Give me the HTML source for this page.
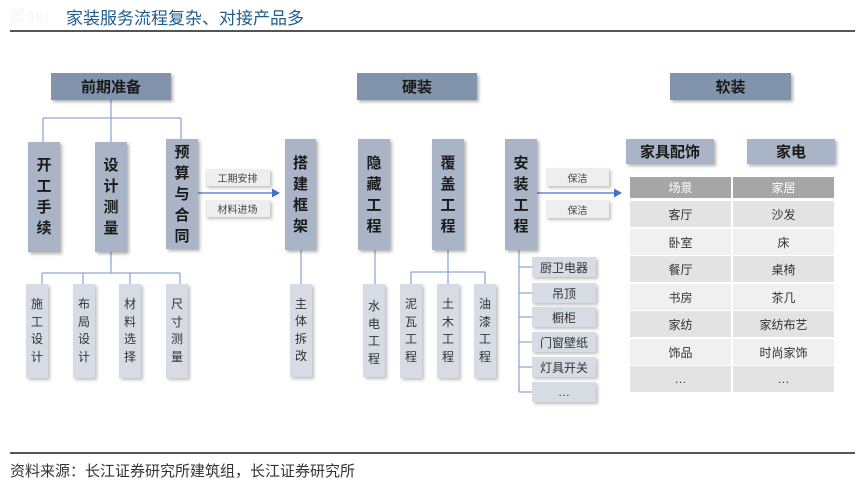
<!DOCTYPE html>
<html><head><meta charset="utf-8">
<style>
*{margin:0;padding:0;box-sizing:border-box}
body{width:864px;height:485px;background:#fff;position:relative;overflow:hidden;font-family:"Liberation Sans","Noto Sans CJK SC",sans-serif;color:#222}
.a{position:absolute}
.h{position:absolute;background:#8294ab;box-shadow:2px 2px 3px rgba(0,0,0,.3);font-weight:bold;font-size:15px;display:flex;align-items:center;justify-content:center;color:#1a1a1a}
.t{position:absolute;background:#a9b4c6;box-shadow:2px 2px 3px rgba(0,0,0,.3);font-weight:bold;font-size:15px;line-height:21px;text-align:center;display:flex;align-items:center;justify-content:center;color:#1a1a1a}
.s{position:absolute;background:#d6dbe4;box-shadow:2px 2px 3px rgba(0,0,0,.25);font-size:12px;line-height:17.5px;text-align:center;display:flex;align-items:center;justify-content:center;color:#333}
.l{position:absolute;background:#eeeeee;box-shadow:2px 2px 3px rgba(0,0,0,.25);font-size:10px;display:flex;align-items:center;justify-content:center;color:#444}
.i{position:absolute;background:#d6dbe4;box-shadow:2px 2px 3px rgba(0,0,0,.25);font-size:12px;display:flex;align-items:center;justify-content:center;color:#333;left:532px;width:64px;height:20px}
.c{position:absolute;font-size:12px;display:flex;align-items:center;justify-content:center;color:#333;height:26px}
</style></head><body>
<div class="a" style="left:10px;top:6px;font-size:14px;color:#f3f4f6">图 18：</div>
<div class="a" style="left:66px;top:4px;font-size:17px;color:#1f5c8e">家装服务流程复杂、对接产品多</div>
<div class="a" style="left:10px;top:30px;width:845px;height:2px;background:#555"></div>

<svg class="a" style="left:0;top:0" width="864" height="485">
<g stroke="#8fa8d6" stroke-width="1.3" fill="none">
<path d="M111 100V118M43 118H181M43 118V142M111 118V142M181 118V139"/>
<path d="M111 252V273M42 273H180M42 273V284M83 273V284M130 273V284M180 273V284"/>
<path d="M301 250V284M375 250V284M448 250V272M411 272H485M411 272V284M448 272V284M485 272V284"/>
<path d="M519 250V392M519 267H532M519 293H532M519 317H532M519 342H532M519 367H532M519 392H532"/>
</g>
<g stroke="#4472c4" stroke-width="1.3"><path d="M198 193H272M537 193H614"/></g>
<path d="M280 193L272 188.5V197.5Z" fill="#4472c4"/>
<path d="M622 193L614 188.5V197.5Z" fill="#4472c4"/>
</svg>

<div class="h" style="left:51px;top:73px;width:120px;height:27px">前期准备</div>
<div class="h" style="left:357px;top:73px;width:120px;height:27px">硬装</div>
<div class="h" style="left:670px;top:73px;width:121px;height:27px">软装</div>

<div class="t" style="left:28px;top:142px;width:32px;height:110px">开<br>工<br>手<br>续</div>
<div class="t" style="left:95px;top:142px;width:32px;height:110px">设<br>计<br>测<br>量</div>
<div class="t" style="left:166px;top:139px;width:32px;height:110px">预<br>算<br>与<br>合<br>同</div>
<div class="t" style="left:285px;top:139px;width:31px;height:111px">搭<br>建<br>框<br>架</div>
<div class="t" style="left:358px;top:139px;width:32px;height:111px">隐<br>藏<br>工<br>程</div>
<div class="t" style="left:432px;top:139px;width:32px;height:111px">覆<br>盖<br>工<br>程</div>
<div class="t" style="left:505px;top:139px;width:32px;height:111px">安<br>装<br>工<br>程</div>

<div class="l" style="left:205px;top:169px;width:65px;height:17px">工期安排</div>
<div class="l" style="left:205px;top:200px;width:65px;height:17px">材料进场</div>
<div class="l" style="left:546px;top:168px;width:63px;height:18px">保洁</div>
<div class="l" style="left:546px;top:200px;width:63px;height:18px">保洁</div>

<div class="s" style="left:26px;top:284px;width:22px;height:94px">施<br>工<br>设<br>计</div>
<div class="s" style="left:73px;top:284px;width:22px;height:94px">布<br>局<br>设<br>计</div>
<div class="s" style="left:119px;top:284px;width:22px;height:94px">材<br>料<br>选<br>择</div>
<div class="s" style="left:166px;top:284px;width:22px;height:94px">尺<br>寸<br>测<br>量</div>
<div class="s" style="left:290px;top:284px;width:22px;height:93px">主<br>体<br>拆<br>改</div>
<div class="s" style="left:363px;top:284px;width:22px;height:93px;align-items:flex-start;padding-top:14px">水<br>电<br>工<br>程</div>
<div class="s" style="left:400px;top:284px;width:22px;height:94px">泥<br>瓦<br>工<br>程</div>
<div class="s" style="left:437px;top:284px;width:22px;height:94px">土<br>木<br>工<br>程</div>
<div class="s" style="left:474px;top:284px;width:22px;height:94px">油<br>漆<br>工<br>程</div>

<div class="i" style="top:257px">厨卫电器</div>
<div class="i" style="top:283px">吊顶</div>
<div class="i" style="top:307px">橱柜</div>
<div class="i" style="top:332px">门窗壁纸</div>
<div class="i" style="top:357px">灯具开关</div>
<div class="i" style="top:382px">…</div>

<div class="h" style="left:626px;top:139px;width:88px;height:25px;background:#a9b4c6">家具配饰</div>
<div class="h" style="left:747px;top:139px;width:88px;height:25px;background:#a9b4c6">家电</div>

<div class="a" style="left:630px;top:177px;width:101px;height:21px;background:#a6a6a6;color:#fff;font-size:12px;display:flex;align-items:center;justify-content:center">场景</div>
<div class="a" style="left:733px;top:177px;width:101px;height:21px;background:#a6a6a6;color:#fff;font-size:12px;display:flex;align-items:center;justify-content:center">家居</div>

<div class="c" style="left:630px;top:201px;width:101px;background:#e3e3e3">客厅</div><div class="c" style="left:733px;top:201px;width:101px;background:#e3e3e3">沙发</div>
<div class="c" style="left:630px;top:229px;width:101px;background:#f0f0f0">卧室</div><div class="c" style="left:733px;top:229px;width:101px;background:#f0f0f0">床</div>
<div class="c" style="left:630px;top:256px;width:101px;background:#e3e3e3">餐厅</div><div class="c" style="left:733px;top:256px;width:101px;background:#e3e3e3">桌椅</div>
<div class="c" style="left:630px;top:284px;width:101px;background:#f0f0f0">书房</div><div class="c" style="left:733px;top:284px;width:101px;background:#f0f0f0">茶几</div>
<div class="c" style="left:630px;top:311px;width:101px;background:#e3e3e3">家纺</div><div class="c" style="left:733px;top:311px;width:101px;background:#e3e3e3">家纺布艺</div>
<div class="c" style="left:630px;top:339px;width:101px;background:#f0f0f0">饰品</div><div class="c" style="left:733px;top:339px;width:101px;background:#f0f0f0">时尚家饰</div>
<div class="c" style="left:630px;top:366px;width:101px;background:#e3e3e3">…</div><div class="c" style="left:733px;top:366px;width:101px;background:#e3e3e3">…</div>

<div class="a" style="left:10px;top:452px;width:845px;height:1.5px;background:#555"></div>
<div class="a" style="left:10px;top:460px;font-size:15px;color:#333">资料来源：长江证券研究所建筑组，长江证券研究所</div>
</body></html>
